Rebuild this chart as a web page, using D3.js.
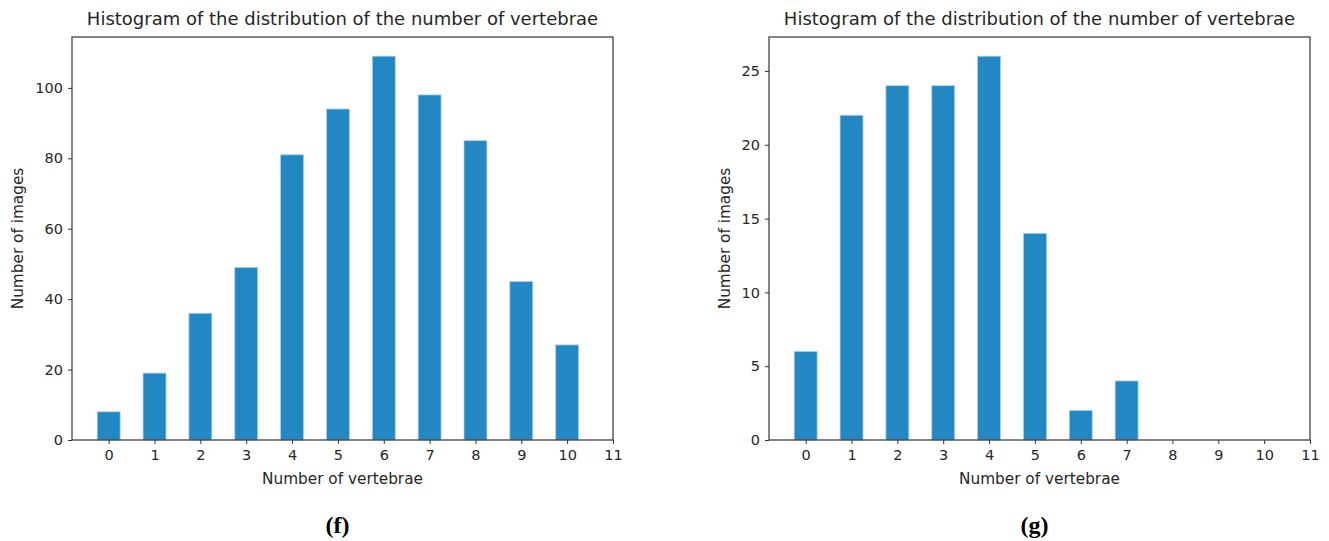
<!DOCTYPE html>
<html>
<head>
<meta charset="utf-8">
<script src="https://cdn.jsdelivr.net/npm/d3@7"></script>
<style>
  body { margin: 0; background: #fff; }
  svg text { font-family: "DejaVu Sans", sans-serif; fill: #262626; }
</style>
</head>
<body>
<div id="chart"></div>
<script>
// data
const vertebrae = [0, 1, 2, 3, 4, 5, 6, 7, 8, 9, 10];
const xTicks = [0, 1, 2, 3, 4, 5, 6, 7, 8, 9, 10, 11];
const countsF = [8, 19, 36, 49, 81, 94, 109, 98, 85, 45, 27];
const countsG = [6, 22, 24, 24, 26, 14, 2, 4, 0, 0, 0];
const yTicksF = [0, 20, 40, 60, 80, 100];
const yTicksG = [0, 5, 10, 15, 20, 25];

const W = 1329, H = 541;
const svg = d3.select("#chart").append("svg")
  .attr("width", W).attr("height", H);

function histogram(opts) {
  const { left, right, top, bottom, counts, yTicks, label, labelX } = opts;
  const g = svg.append("g");

  const x = d3.scaleLinear().domain([-0.8, 11]).range([left, right]);
  const y = d3.scaleLinear().domain([0, d3.max(counts) * 1.05]).range([bottom, top]);

  // bars
  g.selectAll("rect.bar")
    .data(vertebrae)
    .enter()
    .append("rect")
    .attr("class", "bar")
    .attr("x", d => x(d - 0.25))
    .attr("width", d => x(d + 0.25) - x(d - 0.25))
    .attr("y", (d, i) => y(counts[i]))
    .attr("height", (d, i) => bottom - y(counts[i]))
    .style("fill", "#2387c3")
    .style("stroke", (d, i) => counts[i] > 0 ? "#a9d0ea" : "none")
    .style("stroke-width", 0.8);

  // axes
  const xAxis = g.append("g")
    .attr("transform", `translate(0,${bottom})`)
    .call(d3.axisBottom(x).tickValues(xTicks).tickSize(4).tickPadding(6));
  const yAxis = g.append("g")
    .attr("transform", `translate(${left},0)`)
    .call(d3.axisLeft(y).tickValues(yTicks).tickSize(4).tickPadding(5));
  [xAxis, yAxis].forEach(a => {
    a.select(".domain").remove();
    a.selectAll("line").attr("stroke", "#333").attr("stroke-width", 1);
    a.selectAll("text").style("font-size", "14.5px").attr("fill", "#262626");
  });

  // frame
  g.append("rect")
    .attr("x", left).attr("y", top)
    .attr("width", right - left).attr("height", bottom - top)
    .style("fill", "none")
    .style("stroke", "#333")
    .style("stroke-width", 1.2);

  // title & axis labels
  g.append("text")
    .attr("x", (left + right) / 2).attr("y", 25)
    .attr("text-anchor", "middle")
    .style("font-size", "18px")
    .text("Histogram of the distribution of the number of vertebrae");
  g.append("text")
    .attr("x", (left + right) / 2).attr("y", 484)
    .attr("text-anchor", "middle")
    .style("font-size", "15.3px")
    .text("Number of vertebrae");
  g.append("text")
    .attr("transform", `translate(${labelX},${(top + bottom) / 2}) rotate(-90)`)
    .attr("text-anchor", "middle")
    .style("font-size", "15.3px")
    .text("Number of images");

  // panel letter
  g.append("text")
    .attr("x", (left + right) / 2 - 5).attr("y", 533)
    .attr("text-anchor", "middle")
    .style("font-family", "'Liberation Serif', 'Times New Roman', serif")
    .style("font-weight", "bold")
    .style("font-size", "24px")
    .style("fill", "#000")
    .text(label);
}

histogram({ left: 72, right: 613, top: 37, bottom: 440, counts: countsF,
  yTicks: yTicksF, label: "(f)", labelX: 23 });
histogram({ left: 769, right: 1310, top: 37, bottom: 440, counts: countsG,
  yTicks: yTicksG, label: "(g)", labelX: 730 });
</script>
</body>
</html>
